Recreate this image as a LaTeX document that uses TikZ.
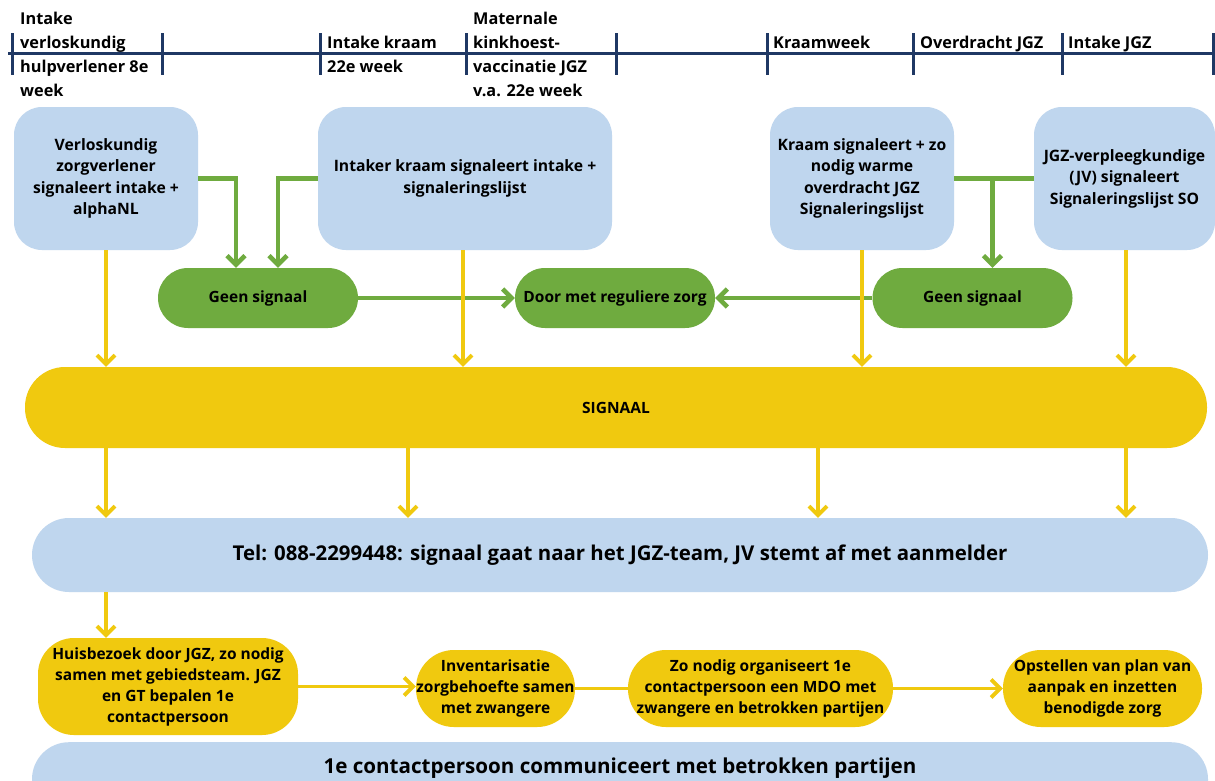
\documentclass[tikz,border=0pt]{standalone}
\usepackage{fontspec}
\setmainfont{Open Sans}
\usetikzlibrary{arrows.meta,calc}
\definecolor{lblue}{HTML}{BFD6EE}
\definecolor{ygold}{HTML}{F0C90F}
\definecolor{lgreen}{HTML}{6FAB3F}
\definecolor{navy}{HTML}{1F3864}
\newcommand\fsz[2]{\fontsize{#1}{#2}\selectfont\bfseries}
\tikzset{
  bluebox/.style={fill=lblue, rounded corners=28pt, align=center, inner sep=0pt, font=\fsz{15.7}{21.5}},
  greenpill/.style={fill=lgreen, rounded corners=30pt, minimum width=200pt, minimum height=60pt, inner sep=0pt, font=\fsz{15.5}{20}},
  ypill/.style={fill=ygold, align=center, inner sep=0pt, font=\fsz{15.5}{21}},
  tl/.style={anchor=north west, align=left, inner sep=0pt, font=\fsz{16.3}{24}},
  garrow/.style={draw=lgreen, line width=4.5pt, -{Straight Barb[length=9pt,width=18pt]}},
  gline/.style={draw=lgreen, line width=4.5pt},
  yarrow/.style={draw=ygold, line width=3.8pt, -{Straight Barb[length=9pt,width=18pt]}},
  yline/.style={draw=ygold, line width=3.8pt},
  tick/.style={draw=navy, line width=3pt}
}
\begin{document}
\begin{tikzpicture}[x=1pt,y=-1pt]
\useasboundingbox (0,0) rectangle (1215,780);
\clip (0,0) rectangle (1215,780);
\fill[white] (0,0) rectangle (1215,780);

% timeline
\draw[tick] (8,53) -- (1215,53);
\foreach \x in {12,162,320,466,616,767,913,1062,1213}
  \draw[tick] (\x,33) -- (\x,75);
\node[tl] (t1) at (20,12) {Intake\\verloskundig\\hulpverlener 8e\\week};
\node[tl] (t2) at (327,36) {Intake kraam\\22e week};
\node[tl] (t3) at (473,12) {Maternale\\kinkhoest-\\vaccinatie JGZ\\v.a. 22e week};
\node[tl] (t4) at (773,36) {Kraamweek};
\node[tl] (t5) at (920,36) {Overdracht JGZ};
\node[tl] (t6) at (1068,36) {Intake JGZ};

% top blue boxes
\node[bluebox, minimum width=184pt, minimum height=143pt] (b1) at (106,178.5) {Verloskundig\\zorgverlener\\signaleert intake +\\alphaNL};
\node[bluebox, minimum width=294pt, minimum height=143pt] (b2) at (465,178.5) {Intaker kraam signaleert intake +\\signaleringslijst};
\node[bluebox, minimum width=184pt, minimum height=143pt] (b3) at (862,178.5) {Kraam signaleert + zo\\nodig warme\\overdracht JGZ\\Signaleringslijst};
\node[bluebox, minimum width=181pt, minimum height=143pt] (b4) at (1124.5,178.5) {JGZ-verpleegkundige\\(JV) signaleert\\Signaleringslijst SO};

% green pills
\node[greenpill] (g1) at (258,298) {Geen signaal};
\node[greenpill] (g2) at (615,298) {Door met reguliere zorg};
\node[greenpill] (g3) at (972.5,298) {Geen signaal};

% signaal
\node[fill=ygold, rounded corners=40pt, minimum width=1182pt, minimum height=81pt, inner sep=0pt, font=\fsz{15.5}{18}] (sig) at (616,407.5) {SIGNAAL};

% tel
\node[fill=lblue, rounded corners=37pt, minimum width=1176pt, minimum height=74pt, inner sep=0pt, font=\fsz{20.4}{24}] (tel) at (620,555) {Tel: 088-2299448: signaal gaat naar het JGZ-team, JV stemt af met aanmelder};

% bottom yellow pills
\node[ypill, rounded corners=36pt, minimum width=260pt, minimum height=97pt] (y1) at (168,686.5) {Huisbezoek door JGZ, zo nodig\\samen met gebiedsteam. JGZ\\en GT bepalen 1e\\contactpersoon};
\node[ypill, rounded corners=38pt, minimum width=159pt, minimum height=77pt] (y2) at (495.5,688.5) {Inventarisatie\\zorgbehoefte samen\\met zwangere};
\node[ypill, rounded corners=38pt, minimum width=265pt, minimum height=77pt] (y3) at (760.5,688.5) {Zo nodig organiseert 1e\\contactpersoon een MDO met\\zwangere en betrokken partijen};
\node[ypill, rounded corners=38pt, minimum width=199pt, minimum height=77pt] (y4) at (1102.5,688.5) {Opstellen van plan van\\aanpak en inzetten\\benodigde zorg};

% bottom band
\node[fill=lblue, rounded corners=37pt, minimum width=1176pt, anchor=north, inner xsep=0pt, inner ysep=10pt, text height=21pt, text depth=50pt, font=\fsz{20.6}{24}] (comm) at (620,742) {1e contactpersoon communiceert met betrokken partijen};

% green connectors
\draw[garrow] (b1.east) -| ([xshift=-22pt]g1.north);
\draw[garrow] (b2.west) -| ([xshift=20pt]g1.north);
\draw[garrow] (g1.east) -- (g2.west);
\draw[garrow] (g3.west) -- (g2.east);
\draw[gline] (b3.east) -- (b4.west);
\coordinate (j3) at ([xshift=20pt]g3.north);
\draw[garrow] (j3 |- b3.east) -- (j3);

% yellow connectors top
\draw[yarrow] (b1.south) -- (b1.south |- sig.north);
\draw[yarrow] ([xshift=-2pt]b2.south) -- ([xshift=-2pt]b2.south |- sig.north);
\draw[yarrow] (b3.south) -- (b3.south |- sig.north);
\draw[yarrow] ([xshift=1.5pt]b4.south) -- ([xshift=1.5pt]b4.south |- sig.north);

% signaal to tel
\draw[yarrow] (sig.south -| b1.south) -- (tel.north -| b1.south);
\draw[yarrow] ([xshift=-208pt]sig.south) -- ([xshift=-208pt]sig.south |- tel.north);
\draw[yarrow] ([xshift=202pt]sig.south) -- ([xshift=202pt]sig.south |- tel.north);
\draw[yarrow] ([xshift=1.5pt]sig.south -| b4.south) -- ([xshift=1.5pt]tel.north -| b4.south);

% tel to huisbezoek
\draw[yarrow] (tel.south -| b1.south) -- (y1.north -| b1.south);

% bottom chain
\draw[yarrow] (y1.east) -- (y1.east -| y2.west);
\draw[yline] (y2.east) -- (y3.west);
\draw[yarrow] (y3.east) -- (y4.west);
\end{tikzpicture}
\end{document}
